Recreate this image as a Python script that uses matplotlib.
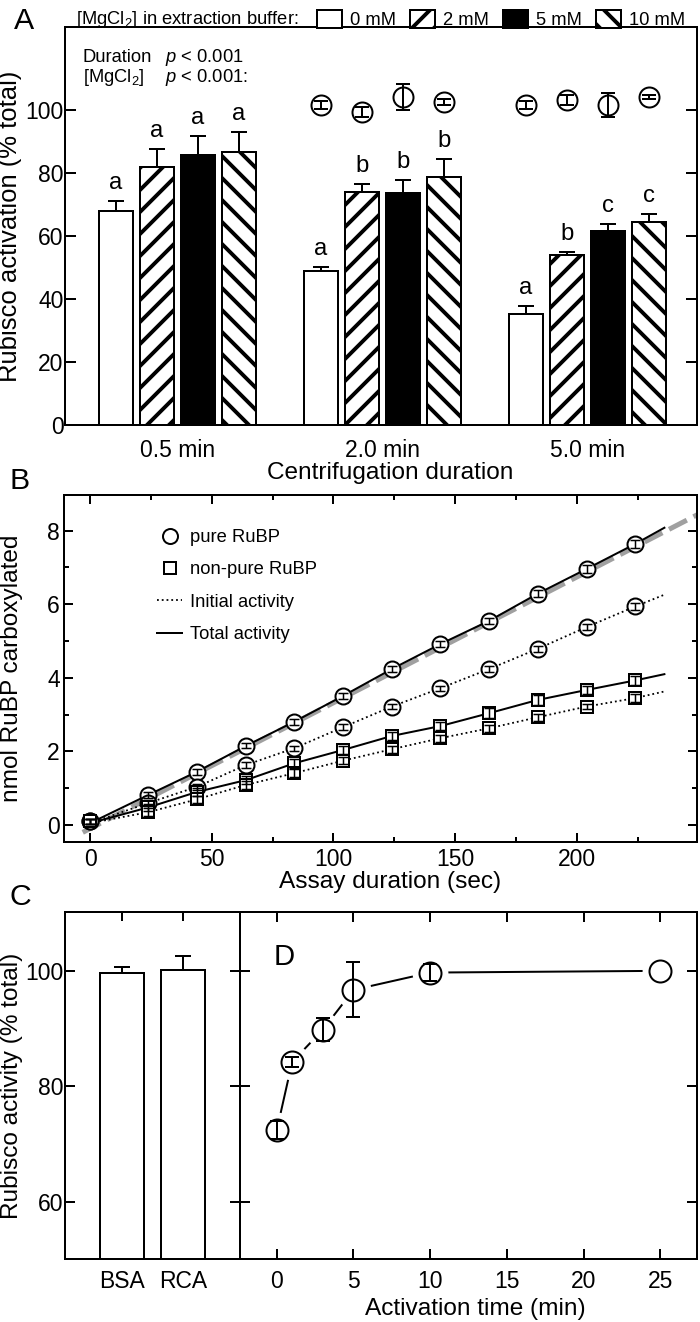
import numpy as np
import matplotlib
matplotlib.use("Agg")
import matplotlib.pyplot as plt
from matplotlib.patches import Patch
from matplotlib.lines import Line2D

DPI = 132
W, H = 700, 1322
PX = 72 / DPI  # one pixel in points

plt.rcParams["font.family"] = ["Liberation Sans", "DejaVu Sans"]
plt.rcParams["mathtext.fontset"] = "custom"
plt.rcParams["mathtext.rm"] = "Liberation Sans"
plt.rcParams["mathtext.it"] = "Liberation Sans:italic"
plt.rcParams["hatch.linewidth"] = 3.9 * PX
plt.rcParams["axes.linewidth"] = 2 * PX

# ---- Panel A: Rubisco activation vs centrifugation duration ----
durations = ["0.5 min", "2.0 min", "5.0 min"]
mg_labels = ["0 mM", "2 mM", "5 mM", "10 mM"]
act_0mM = [68.0, 48.9, 35.1]
act_2mM = [81.9, 73.9, 53.9]
act_5mM = [85.8, 73.7, 61.6]
act_10mM = [86.7, 78.7, 64.4]
err_0mM = [3.2, 1.3, 2.7]
err_2mM = [5.6, 2.7, 1.0]
err_5mM = [5.9, 4.0, 2.3]
err_10mM = [6.2, 5.6, 2.5]
sig_0mM = ["a", "a", "a"]
sig_2mM = ["a", "b", "b"]
sig_5mM = ["a", "b", "c"]
sig_10mM = ["a", "b", "c"]
# open circles (total activity) shown for 2.0 and 5.0 min only
tot_0mM = [np.nan, 101.5, 101.5]
tot_2mM = [np.nan, 99.4, 103.1]
tot_5mM = [np.nan, 104.0, 101.6]
tot_10mM = [np.nan, 102.5, 104.1]
tot_err_0mM = [np.nan, 1.3, 1.3]
tot_err_2mM = [np.nan, 1.5, 1.5]
tot_err_5mM = [np.nan, 4.1, 3.7]
tot_err_10mM = [np.nan, 1.0, 0.6]

# ---- Panel B: RuBP carboxylated over assay time ----
b_times = [0, 24, 44, 64, 84, 104, 124, 144, 164, 184, 204, 224]
pure_total = [0.1, 0.82, 1.45, 2.15, 2.81, 3.51, 4.24, 4.92, 5.55, 6.29, 6.96, 7.64]
pure_initial = [0.1, 0.6, 1.04, 1.63, 2.09, 2.66, 3.22, 3.72, 4.24, 4.79, 5.38, 5.94]
nonpure_total = [0.1, 0.48, 0.9, 1.22, 1.68, 2.04, 2.42, 2.69, 3.04, 3.40, 3.67, 3.93]
nonpure_initial = [0.1, 0.35, 0.7, 1.09, 1.41, 1.75, 2.06, 2.36, 2.63, 2.93, 3.22, 3.45]
pure_total_err = [0.06, 0.08, 0.08, 0.07, 0.08, 0.08, 0.09, 0.07, 0.09, 0.1, 0.1, 0.12]
pure_initial_err = [0.06, 0.07, 0.08, 0.08, 0.07, 0.08, 0.08, 0.07, 0.08, 0.08, 0.09, 0.09]
nonpure_total_err = [0.06, 0.1, 0.1, 0.1, 0.12, 0.1, 0.12, 0.12, 0.14, 0.14, 0.1, 0.12]
nonpure_initial_err = [0.06, 0.1, 0.1, 0.1, 0.1, 0.1, 0.1, 0.1, 0.1, 0.1, 0.08, 0.1]
# continuous traces end a little after the last sample
trace_end_t = 236
pure_total_end = 8.08
pure_initial_end = 6.26
nonpure_total_end = 4.10
nonpure_initial_end = 3.63
# grey dashed regression line, read at its two ends
fit_t = [-3, 250]
fit_y = [-0.2, 8.45]

# ---- Panel C: activation with BSA / RCA ----
c_labels = ["BSA", "RCA"]
c_values = [99.7, 100.2]
c_err = [1.0, 2.3]

# ---- Panel D: activation time course ----
d_time = [0, 1, 3, 5, 10, 25]
d_values = [72.4, 84.2, 89.8, 96.7, 99.7, 100.0]
d_err = [1.6, 0.9, 2.0, 4.75, 1.5, 0.0]


def box(left, top, right, bottom):
    # pixel box -> figure fraction rect
    return [left / W, 1 - bottom / H, (right - left) / W, (bottom - top) / H]


fig = plt.figure(figsize=(W / DPI, H / DPI), dpi=DPI)
axA = fig.add_axes(box(65, 26.7, 697, 425))
axB = fig.add_axes(box(64, 495, 697, 842.3))
axC = fig.add_axes(box(65, 912, 240, 1259.3))
axD = fig.add_axes(box(240, 912, 697, 1259.3))

lw = 2 * PX
tick_fs = 12.5
label_fs = 13.3
small_fs = 10

# ---------------- Panel A ----------------
levels = [
    (act_0mM, err_0mM, sig_0mM, tot_0mM, tot_err_0mM, "white", ""),
    (act_2mM, err_2mM, sig_2mM, tot_2mM, tot_err_2mM, "white", "//"),
    (act_5mM, err_5mM, sig_5mM, tot_5mM, tot_err_5mM, "black", ""),
    (act_10mM, err_10mM, sig_10mM, tot_10mM, tot_err_10mM, "white", "\\\\"),
]
gx = np.arange(len(durations))
handles = []
for i, (vals, errs, sig, tot, tot_err, fc, hatch) in enumerate(levels):
    x = gx + (i - 1.5) * 0.2
    axA.bar(x, vals, width=0.166, color=fc, edgecolor="black", hatch=hatch,
            linewidth=lw, zorder=2)
    axA.errorbar(x, vals, yerr=[np.zeros(3), errs], fmt="none", ecolor="black",
                 elinewidth=lw, capsize=8 * PX, capthick=lw, zorder=1)
    for xi, v, e, s in zip(x, vals, errs, sig):
        axA.annotate(s, (xi, v + e), xytext=(0, 7 * PX), textcoords="offset points",
                     ha="center", va="bottom", fontsize=13)
    axA.plot(x, tot, "o", ms=20 * PX, mfc="white", mec="black", mew=lw, zorder=3)
    axA.errorbar(x, tot, yerr=tot_err, fmt="none", ecolor="black",
                 elinewidth=lw, capsize=7 * PX, capthick=lw, zorder=4)
    handles.append(Patch(facecolor=fc, edgecolor="black", hatch=hatch, linewidth=lw))

axA.set_xlim(-0.548, 2.535)
axA.set_ylim(0, 126.4)
axA.set_yticks([0, 20, 40, 60, 80, 100])
axA.set_xticks(gx)
axA.set_xticklabels(durations)
axA.tick_params(axis="y", direction="in", length=11 * PX, width=lw, right=True,
                labelsize=tick_fs, pad=1.5 * PX)
axA.tick_params(axis="x", length=0, labelsize=tick_fs, pad=14 * PX)
axA.set_ylabel("Rubisco activation (% total)", fontsize=14)
axA.yaxis.set_label_coords(-0.068, 0.5)
axA.set_xlabel("Centrifugation duration", fontsize=label_fs)
axA.xaxis.set_label_coords(0.515, -0.093)

axA.text(83 / W, 1 - 57 / H, "Duration", transform=fig.transFigure,
         va="center", fontsize=small_fs)
axA.text(165 / W, 1 - 57 / H, "$p$ < 0.001", transform=fig.transFigure,
         va="center", fontsize=small_fs)
axA.text(83 / W, 1 - 77 / H, "[MgCl$_2$]", transform=fig.transFigure,
         va="center", fontsize=small_fs)
axA.text(165 / W, 1 - 77 / H, "$p$ < 0.001:", transform=fig.transFigure,
         va="center", fontsize=small_fs)

fig.text(76 / W, 1 - 19.5 / H, "[MgCl$_2$] in extraction buffer:",
         va="center", fontsize=small_fs)
fs_px = small_fs / PX
axA.legend(handles, mg_labels, ncol=4, loc="center left",
           bbox_to_anchor=(317 / W, 1 - 19.5 / H), bbox_transform=fig.transFigure,
           frameon=False, fontsize=small_fs, borderpad=0, borderaxespad=0,
           handlelength=25 / fs_px, handleheight=21 / fs_px,
           handletextpad=8 / fs_px, columnspacing=14 / fs_px)

# ---------------- Panel B ----------------
axB.plot(fit_t, fit_y, color="#a0a0a0", lw=5 * PX, ls=(0, (4, 1.5)), zorder=1)
series = [
    (pure_total, pure_total_err, pure_total_end, "o", "-", 16 * PX),
    (pure_initial, pure_initial_err, pure_initial_end, "o", ":", 16 * PX),
    (nonpure_total, nonpure_total_err, nonpure_total_end, "s", "-", 13 * PX),
    (nonpure_initial, nonpure_initial_err, nonpure_initial_end, "s", ":", 13 * PX),
]
for vals, errs, end, mk, ls, ms in series:
    tt = [0] + b_times[1:] + [trace_end_t]
    yy = [0.05] + vals[1:] + [end]
    axB.plot(tt, yy, color="black", ls=ls, lw=(2 if ls == "-" else 1.8) * PX, zorder=2)
    axB.plot(b_times, vals, mk, ms=ms, mfc="white", mec="black", mew=lw, zorder=4)
    axB.errorbar(b_times, vals, yerr=errs, fmt="none", ecolor="black",
                 elinewidth=1.5 * PX, capsize=5 * PX, capthick=1.5 * PX, zorder=5)

b_handles = [
    Line2D([], [], marker="o", ls="none", ms=15 * PX, mfc="white", mec="black", mew=lw),
    Line2D([], [], marker="s", ls="none", ms=13 * PX, mfc="white", mec="black", mew=lw),
    Line2D([], [], color="black", ls=":", lw=1.8 * PX),
    Line2D([], [], color="black", ls="-", lw=2 * PX),
]
axB.legend(b_handles, ["pure RuBP", "non-pure RuBP", "Initial activity", "Total activity"],
           loc="upper left", bbox_to_anchor=((157 - 64) / 633, 1 - (529 - 495) / 347.3),
           frameon=False, fontsize=small_fs, borderpad=0, borderaxespad=0,
           handlelength=25 / fs_px, handletextpad=8.5 / fs_px, labelspacing=0.84)

axB.set_xlim(-10.7, 249.4)
axB.set_ylim(-0.47, 8.97)
axB.set_xticks([0, 50, 100, 150, 200])
axB.set_xticks([25, 75, 125, 175, 225], minor=True)
axB.set_yticks([0, 2, 4, 6, 8])
axB.set_yticks([1, 3, 5, 7], minor=True)
axB.tick_params(which="both", direction="in", top=True, right=True, width=lw,
                labelsize=tick_fs)
axB.tick_params(which="major", length=9 * PX)
axB.tick_params(which="minor", length=5 * PX)
axB.tick_params(axis="x", pad=6 * PX)
axB.tick_params(axis="y", pad=4 * PX)
axB.set_ylabel("nmol RuBP carboxylated", fontsize=label_fs)
axB.yaxis.set_label_coords(-0.065, 0.5)
axB.set_xlabel("Assay duration (sec)", fontsize=label_fs)
axB.xaxis.set_label_coords(0.515, -0.083)

# ---------------- Panel C ----------------
cx = np.arange(len(c_labels))
axC.bar(cx, c_values, width=0.72, color="white", edgecolor="black", linewidth=lw, zorder=2)
axC.errorbar(cx, c_values, yerr=[np.zeros(2), c_err], fmt="none", ecolor="black",
             elinewidth=lw, capsize=8 * PX, capthick=lw, zorder=1)
axC.set_xlim(-0.93, 1.93)
axC.set_ylim(50, 110.2)
axC.set_xticks(cx)
axC.set_xticklabels(c_labels)
axC.set_yticks([60, 80, 100])
axC.tick_params(axis="x", direction="in", bottom=False, top=True, length=9 * PX,
                width=lw, labelsize=tick_fs, labelbottom=True, pad=11 * PX)
axC.tick_params(axis="y", direction="in", right=True, length=10 * PX, width=lw,
                labelsize=tick_fs, pad=1.5 * PX)
axC.set_ylabel("Rubisco activity (% total)", fontsize=label_fs)
axC.yaxis.set_label_coords(-0.24, 0.5)

# ---------------- Panel D ----------------
d_has_err = np.array(d_err) > 0
axD.plot(d_time, d_values, color="black", lw=lw, zorder=1)
axD.plot(d_time, d_values, "o", ms=34 * PX, mfc="white", mec="white", zorder=2)
axD.plot(d_time, d_values, "o", ms=22 * PX, mfc="white", mec="black", mew=lw, zorder=3)
axD.errorbar(np.array(d_time)[d_has_err], np.array(d_values)[d_has_err],
             yerr=np.array(d_err)[d_has_err], fmt="none", ecolor="black",
             elinewidth=lw, capsize=7 * PX, capthick=lw, zorder=4)
axD.set_xlim(-2.4, 27.4)
axD.set_ylim(50, 110.2)
axD.set_xticks([0, 5, 10, 15, 20, 25])
axD.set_yticks([60, 80, 100])
axD.tick_params(which="both", direction="in", top=True, right=True, length=10 * PX,
                width=lw, labelsize=tick_fs, labelleft=False)
axD.tick_params(axis="x", pad=11 * PX)
axD.set_xlabel("Activation time (min)", fontsize=label_fs)
axD.xaxis.set_label_coords(0.515, -0.111)
axD.text(0.096, 0.87, "D", transform=axD.transAxes, ha="center", va="center",
         fontsize=16)

# panel letters
for letter, (px_x, px_y) in zip("ABC", [(24, 21), (20, 481), (20, 897)]):
    fig.text(px_x / W, 1 - px_y / H, letter, ha="center", va="center", fontsize=16.5)

fig.savefig("out.png", dpi=DPI)
